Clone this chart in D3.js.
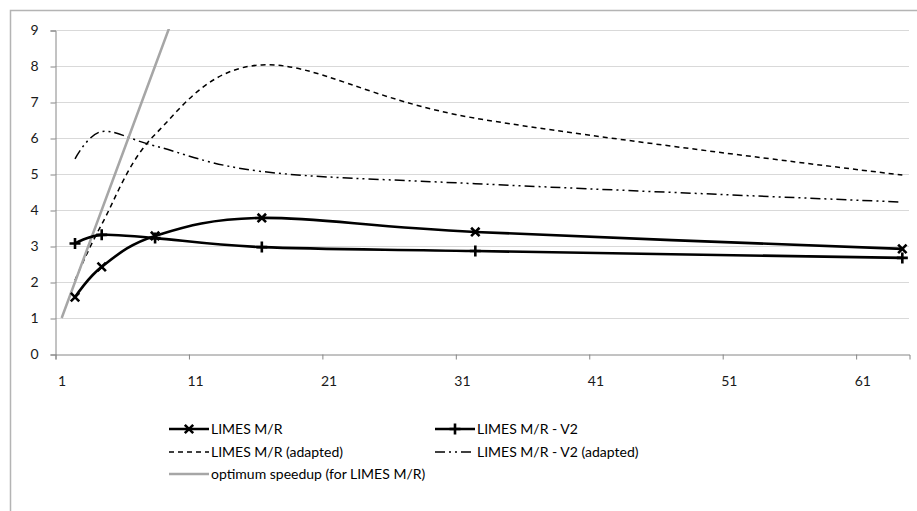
<!DOCTYPE html>
<html>
<head>
<meta charset="utf-8">
<script src="https://cdn.jsdelivr.net/npm/d3@7"></script>
<style>
  body { margin: 0; background: #fff; }
  svg { display: block; font-family: Lato, "Liberation Sans", sans-serif; }
</style>
</head>
<body>
<svg id="chart"></svg>
<script>
// processors (category positions on the x axis) and speedup values
const categories = [2, 4, 8, 16, 32, 64];
const limesMR = [1.58, 2.42, 3.28, 3.78, 3.39, 2.92];
const limesMRV2 = [3.07, 3.31, 3.22, 2.97, 2.86, 2.67];
const limesMRAdapted = [2.05, 3.6, 6.1, 8.03, 6.55, 4.97];
const limesMRV2Adapted = [5.42, 6.18, 5.78, 5.07, 4.73, 4.22];
const optimumCategories = [1, 2, 4, 8, 16, 32, 64];
const optimum = [1, 2, 4, 8, 16, 32, 64];
const xTickLabels = [1, 11, 21, 31, 41, 51, 61];
const yTicks = [0, 1, 2, 3, 4, 5, 6, 7, 8, 9];

const svgWidth = 917, svgHeight = 511;
const margin = { top: 30, left: 55, right: 8, bottom: 157 };
const fontSize = '14px';

const svg = d3.select('#chart')
    .attr('width', svgWidth)
    .attr('height', svgHeight);

// outer chart frame (only left and top edges visible)
svg.append('path')
    .attr('d', 'M10.5,' + svgHeight + 'V10.5H' + svgWidth)
    .attr('fill', 'none')
    .attr('stroke', '#b4b4b4')
    .attr('stroke-width', 1.5);

const x = d3.scaleLinear()
    .domain([0.5, 64.5])
    .range([margin.left, 909]);
const y = d3.scaleLinear()
    .domain([0, 9])
    .range([354, margin.top]);

// gridlines
svg.append('g')
    .selectAll('line')
    .data(yTicks.filter(d => d > 0))
    .enter()
    .append('line')
    .attr('x1', x(0.5))
    .attr('x2', x(64.5))
    .attr('y1', d => Math.round(y(d)) + 0.5)
    .attr('y2', d => Math.round(y(d)) + 0.5)
    .attr('stroke', '#d9d9d9')
    .attr('stroke-width', 1);

// y axis
const gY = svg.append('g')
    .attr('transform', 'translate(' + (x(0.5) + 0.5) + ',0.5)')
    .call(d3.axisLeft(y).tickValues(yTicks).tickSize(5).tickPadding(12).tickFormat(d3.format('d')));

// x axis: tick marks between categories, labels centred on categories
const gX = svg.append('g')
    .attr('transform', 'translate(0.5,' + (y(0) + 0.5) + ')')
    .call(d3.axisBottom(x).tickValues(d3.range(0.5, 61, 10)).tickSize(5).tickFormat(''));
const gXLabels = svg.append('g')
    .attr('transform', 'translate(0,' + y(0) + ')')
    .call(d3.axisBottom(x).tickValues(xTickLabels).tickSize(0).tickPadding(22).tickFormat(d3.format('d')));
gXLabels.select('.domain').remove();

[gX, gY].forEach(g => {
    g.select('.domain').attr('stroke', '#868686').attr('stroke-width', 1);
    g.selectAll('.tick line').attr('stroke', '#868686');
});
[gY, gXLabels].forEach(g => {
    g.selectAll('.tick text')
        .attr('fill', '#1a1a1a')
        .style('font-size', fontSize)
        .style('font-family', 'Lato, "Liberation Sans", sans-serif');
});

// clip lines to plot area
svg.append('clipPath')
    .attr('id', 'plot-clip')
    .append('rect')
    .attr('x', x(0.5))
    .attr('y', y(9) - 1)
    .attr('width', x(64.5) - x(0.5))
    .attr('height', y(0) - y(9) + 1);

const smooth = d3.line()
    .x(d => x(d[0]))
    .y(d => y(d[1]))
    .curve(d3.curveCardinal.tension(0));
const straight = d3.line()
    .x(d => x(d[0]))
    .y(d => y(d[1]));

const dashDotDot = '10,4,2,4,2,4';

const series = [
    { name: 'LIMES M/R', cats: categories, values: limesMR, color: '#000', width: 2.6, dash: null, marker: 'x', smooth: true },
    { name: 'LIMES M/R - V2', cats: categories, values: limesMRV2, color: '#000', width: 2.6, dash: null, marker: '+', smooth: true },
    { name: 'LIMES M/R (adapted)', cats: categories, values: limesMRAdapted, color: '#000', width: 1.5, dash: '5,4', marker: null, smooth: true },
    { name: 'LIMES M/R - V2 (adapted)', cats: categories, values: limesMRV2Adapted, color: '#000', width: 1.5, dash: dashDotDot, marker: null, smooth: true },
    { name: 'optimum speedup (for LIMES M/R)', cats: optimumCategories, values: optimum, color: '#a6a6a6', width: 2.5, dash: null, marker: null, smooth: false }
];

const drawOrder = [2, 3, 4, 0, 1];
const plot = svg.append('g').attr('clip-path', 'url(#plot-clip)');

drawOrder.forEach(i => {
    const s = series[i];
    const pts = s.cats.map((c, j) => [c, s.values[j]]);
    plot.append('path')
        .attr('d', (s.smooth ? smooth : straight)(pts))
        .attr('fill', 'none')
        .attr('stroke', s.color)
        .attr('stroke-width', s.width)
        .attr('stroke-dasharray', s.dash);
});

function markerPath(type, r) {
    if (type === 'x') {
        return 'M' + (-r) + ',' + (-r) + 'L' + r + ',' + r + 'M' + (-r) + ',' + r + 'L' + r + ',' + (-r);
    }
    return 'M0,' + (-r) + 'V' + r + 'M' + (-r) + ',0H' + r;
}

[0, 1].forEach(i => {
    const s = series[i];
    svg.append('g')
        .selectAll('path')
        .data(s.cats.map((c, j) => [c, s.values[j]]))
        .enter()
        .append('path')
        .attr('transform', d => 'translate(' + x(d[0]) + ',' + y(d[1]) + ')')
        .attr('d', markerPath(s.marker, s.marker === 'x' ? 4.2 : 5.5))
        .attr('fill', 'none')
        .attr('stroke', '#000')
        .attr('stroke-width', 2.6);
});

// legend
const legendItems = [
    { s: series[0], x: 169, y: 429 },
    { s: series[1], x: 435, y: 429 },
    { s: series[2], x: 169, y: 452 },
    { s: series[3], x: 435, y: 452 },
    { s: series[4], x: 169, y: 474 }
];
const legend = svg.append('g');
legendItems.forEach(item => {
    const g = legend.append('g').attr('transform', 'translate(' + item.x + ',' + item.y + ')');
    g.append('line')
        .attr('x1', 0).attr('x2', 40)
        .attr('stroke', item.s.color)
        .attr('stroke-width', item.s.width)
        .attr('stroke-dasharray', item.s.dash === dashDotDot ? '10,4,2,4,2,4,10' : item.s.dash);
    if (item.s.marker) {
        g.append('path')
            .attr('transform', 'translate(20,0)')
            .attr('d', markerPath(item.s.marker, item.s.marker === 'x' ? 4.2 : 5.5))
            .attr('fill', 'none')
            .attr('stroke', '#000')
            .attr('stroke-width', 2.6);
    }
    g.append('text')
        .attr('x', 42)
        .attr('dy', '0.35em')
        .attr('fill', '#000')
        .style('font-size', fontSize)
        .text(item.s.name);
});
</script>
</body>
</html>
